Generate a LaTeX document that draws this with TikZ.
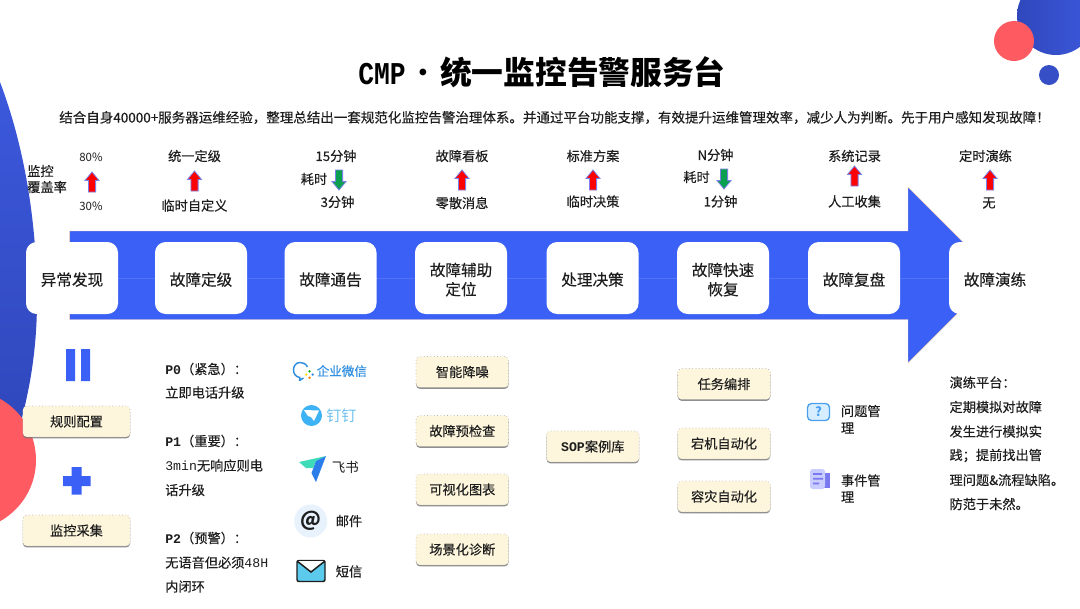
\documentclass[tikz,border=0pt]{standalone}
\usepackage{fontspec}
\usepackage{graphicx}
\setmainfont{Noto Sans CJK SC}
\newfontfamily\medf{Noto Sans CJK SC}[FakeBold=0.25]
\newfontfamily\monof{Liberation Mono}
\usetikzlibrary{shadows}
\definecolor{flowblue}{HTML}{3A60F5}
\definecolor{deepblue}{HTML}{3048BC}
\definecolor{midblue}{HTML}{3C58DC}
\definecolor{coral}{HTML}{FE5A62}
\definecolor{cream}{HTML}{FDF6DC}
\definecolor{ink}{HTML}{1E1E1E}
\definecolor{arrowedge}{HTML}{7A80E8}
\definecolor{downgreen}{HTML}{0AA050}
\definecolor{wxblue}{HTML}{2F8FE0}
\definecolor{dingblue}{HTML}{3DB2F5}
\definecolor{dingtext}{HTML}{6CC0F0}
\definecolor{mailbg}{HTML}{E8F2FD}
\definecolor{smsblue}{HTML}{5CCAEC}
\definecolor{qfill}{HTML}{D6EEFF}
\definecolor{qedge}{HTML}{4AA0EE}
\definecolor{docfill}{HTML}{C9CCFF}
\definecolor{docbar}{HTML}{7A78F0}
\definecolor{planeteal}{HTML}{3DDBB8}
\definecolor{planeblue}{HTML}{2B7DE9}
\tikzset{
  txt/.style={font=\medf\fontsize{9.9pt}{12pt}\selectfont,text=ink,inner sep=0pt},
  txtl/.style={txt,anchor=west},
  stagebox/.style={fill=white,rounded corners=8pt,minimum width=69pt,minimum height=54pt,inner sep=0pt,align=center,
     font=\medf\fontsize{11.7pt}{14.5pt}\selectfont,text=ink},
  creambox/.style={fill=cream,draw=black!30,dotted,line width=.5pt,rounded corners=3pt,minimum width=69.4pt,minimum height=23.2pt,inner sep=0pt,
     font=\medf\fontsize{9.9pt}{12pt}\selectfont,text=ink,
     drop shadow={shadow xshift=0pt,shadow yshift=-1.1pt,fill=black!55,opacity=.8}},
  widecream/.style={creambox,minimum width=80.5pt},
  flowbody/.style={fill=flowblue,draw=orange!30!white,line width=.3pt},
  markup/.style={fill=red,draw=arrowedge,line width=.6pt,line join=miter},
  markdown/.style={fill=downgreen,draw=arrowedge,line width=.6pt,line join=miter},
}
\newcommand{\upmark}[2]{\draw[markup,shift={(#1,#2)}] (0,-10)--(7,-1.5)--(3.6,-1.5)--(3.6,10)--(-3.6,10)--(-3.6,-1.5)--(-7,-1.5)--cycle;}
\newcommand{\downmark}[2]{\draw[markdown,shift={(#1,#2)}] (0,10)--(7,1.5)--(3.6,1.5)--(3.6,-10)--(-3.6,-10)--(-3.6,1.5)--(-7,1.5)--cycle;}
\newcommand{\lowtext}[1]{\raisebox{-1.2pt}[\height][\depth]{#1}}
\begin{document}
\begin{tikzpicture}[x=0.75pt,y=-0.75pt]
\useasboundingbox (0,0) rectangle (1080,608);
\clip (0,0) rectangle (1080,608);
\fill[white] (0,0) rectangle (1080,608);
% decorative shapes
\shade[top color=midblue,bottom color=deepblue] (0,82) .. controls (22,140) and (37,215) .. (37,300) .. controls (37,345) and (31,385) .. (20,425) -- (0,425) -- cycle;
\fill[coral] (-34,460) circle [radius=70];
\shade[left color=deepblue,right color=midblue] (1056,16) circle [radius=39];
\fill[coral] (1014,41) circle [radius=20];
\fill[midblue!90!black] (1049,75) circle [radius=10];
% main arrow
\draw[flowbody] (69.6,231) -- (908,231) -- (908,187) -- (996,275) -- (908,363) -- (908,319.5) -- (69.6,319.5) -- cycle;
\draw[flowblue!88!white,line width=.6pt] (69.6,278) -- (960,278);
% title
\node[inner sep=0pt,anchor=west,font=\bfseries\fontsize{23.8pt}{28pt}\selectfont,text=black] (title) at (358,72)
  {\scalebox{.83}[1]{\monof\bfseries CMP}\hspace{1pt}{\normalfont·}\hspace{1pt}统一监控告警服务台};
\node[txtl,font=\medf\fontsize{10.13pt}{12pt}\selectfont] (subtitle) at (59,117.5)
  {结合自身40000+服务器运维经验，整理总结出一套规范化监控告警治理体系。并通过平台功能支撑，有效提升运维管理效率，减少人为判断。先于用户感知发现故障！};
% top indicators
\node[txtl] (cov1) at (27,171) {监控};
\node[txtl] (cov2) at (27,187) {覆盖率};
\node[txt,font=\fontsize{8.6pt}{10pt}\selectfont] (p80) at (91,157) {80\%};
\node[txt,font=\fontsize{8.6pt}{10pt}\selectfont] (p30) at (91,206) {30\%};
\upmark{92}{182}
\node[txt] (a1) at (194.5,156) {统一定级};
\upmark{194.5}{181}
\node[txt] (a2) at (194.5,205.5) {临时自定义};
\node[txt] (b1) at (336,156) {15分钟};
\node[txt] (b2) at (314,179) {耗时};
\downmark{339}{180}
\node[txt] (b3) at (337.5,202) {3分钟};
\node[txt] (c1) at (462,156) {故障看板};
\upmark{462}{180}
\node[txt] (c2) at (462,203) {零散消息};
\node[txt] (d1) at (593,156) {标准方案};
\upmark{593}{180}
\node[txt] (d2) at (593,201.5) {临时决策};
\node[txt] (e1) at (715.5,155) {N分钟};
\node[txt] (e2) at (696.5,177) {耗时};
\downmark{724}{179}
\node[txt] (e3) at (720.5,201.5) {1分钟};
\node[txt] (f1) at (854.5,156) {系统记录};
\upmark{854.5}{176}
\node[txt] (f2) at (854.5,201.5) {人工收集};
\node[txt] (g1) at (985.5,156) {定时演练};
\upmark{990}{180}
\node[txt] (g2) at (989,203) {无};
% stages
\node[stagebox] (s1) at (72,278) {\lowtext{异常发现}};
\node[stagebox] (s2) at (201,278) {\lowtext{故障定级}};
\node[stagebox] (s3) at (330.5,278) {\lowtext{故障通告}};
\node[stagebox] (s4) at (461,278) {\lowtext{故障辅助}\\\lowtext{定位}};
\node[stagebox] (s5) at (592.5,278) {\lowtext{处理决策}};
\node[stagebox] (s6) at (723,278) {\lowtext{故障快速}\\\lowtext{恢复}};
\node[stagebox] (s7) at (854,278) {\lowtext{故障复盘}};
\node[stagebox] (s8) at (995,278) {\lowtext{故障演练}};
% column 1
\fill[flowblue] (66,349) rectangle (75,381) (81,349) rectangle (90,381);
\node[widecream] (k1) at (76.5,421.5) {规则配置};
\fill[flowblue] (71.5,467) rectangle (81.5,494.5) (63,476) rectangle (90.5,486);
\node[widecream] (k2) at (76.5,530.5) {监控采集};
% column 2
\node[txtl] (l1) at (165,369) {{\monof\bfseries P0}（紧急）：};
\node[txtl] (l2) at (165,392.5) {立即电话升级};
\node[txtl] (l3) at (165,441) {{\monof\bfseries P1}（重要）：};
\node[txtl] (l4) at (165,465.5) {{\monof 3min}无响应则电};
\node[txtl] (l5) at (165,490) {话升级};
\node[txtl] (l6) at (165,538) {{\monof\bfseries P2}（预警）：};
\node[txtl] (l7) at (165,562.5) {无语音但必须{\monof 48H}};
\node[txtl] (l8) at (165,586.5) {内闭环};
% column 3: channels
\draw[wxblue,line width=1.1pt,line join=round] (307.5,367) .. controls (306,363.5) and (302.5,362.5) .. (300,362.5) .. controls (295.5,362.5) and (293.5,366.5) .. (293.5,370) .. controls (293.5,374) and (296,377) .. (300,377.5) -- (299.5,380.5) -- (303.5,378);
\fill[green!65!black] (309.5,371.3) circle [radius=1.3];
\fill[orange] (309.5,377.7) circle [radius=1.3];
\fill[wxblue] (312.7,374.5) circle [radius=1.3];
\fill[yellow!80!orange] (306.3,374.5) circle [radius=1.3];
\node[txtl,text=wxblue,font=\medf\fontsize{9.4pt}{11pt}\selectfont] (wx) at (316.5,371) {企业微信};
\fill[dingblue] (311.5,415.5) circle [radius=10.5];
\fill[white] (304,410) -- (319,410.5) -- (314,421) -- (311,417) -- (308,416) -- cycle;
\node[txtl,text=dingtext,font=\fontsize{11.3pt}{13pt}\selectfont] (ding) at (326,416) {钉钉};
\fill[planeteal] (299,462) -- (326,456) -- (316,461) -- (313,468) -- (306,468) -- cycle;
\fill[planeblue] (326,456) -- (316,482) -- (311.5,473) -- (316,461) -- cycle;
\node[txt,font=\fontsize{10.1pt}{12pt}\selectfont] (fs) at (345.3,467.5) {飞书};
\fill[mailbg] (310.7,521) circle [radius=16.5];
\node[inner sep=0pt,text=ink,font=\bfseries\fontsize{15pt}{16pt}\selectfont] (at) at (310.7,520.5) {@};
\node[txt] (mail) at (349,521) {邮件};
\draw[ink,fill=smsblue,line width=1.1pt,rounded corners=1.5pt] (297,560.5) rectangle (325,581.5);
\fill[white] (297.6,561) -- (324.4,561) -- (311,572) -- cycle;
\draw[ink,line width=1.1pt] (297,561) -- (311,572) -- (325,561);
\node[txt] (sms) at (349,571.5) {短信};
% column 4
\node[creambox] (m1) at (462.3,372) {智能降噪};
\node[creambox] (m2) at (462.3,431) {故障预检查};
\node[creambox] (m3) at (462.3,489.5) {可视化图表};
\node[creambox] (m4) at (462.3,549.5) {场景化诊断};
% column 5
\node[creambox] (n1) at (592.8,446.5) {{\monof\bfseries SOP}案例库};
% column 6
\node[creambox] (o1) at (724,384) {任务编排};
\node[creambox] (o2) at (724,443.5) {宕机自动化};
\node[creambox] (o3) at (724,496.5) {容灾自动化};
% column 7
\draw[qedge,fill=qfill,line width=1pt,rounded corners=3pt] (807.5,403.5) rectangle (829.5,420.5);
\node[inner sep=0pt,text=qedge,font=\bfseries\fontsize{9.5pt}{10pt}\selectfont] (qmark) at (818.5,412) {?};
\node[txtl] (q1) at (840.7,411) {问题管};
\node[txtl] (q2) at (840.7,428) {理};
\fill[docbar] (824,473) rectangle (829.5,488);
\fill[docfill,rounded corners=2pt] (810,469) rectangle (825,489);
\fill[docbar] (813,473) rectangle (822,474.8) (813,477.8) rectangle (823,479.6) (813,482.6) rectangle (819,484.4);
\node[txtl] (r1) at (840.7,480.5) {事件管};
\node[txtl] (r2) at (840.7,497) {理};
% column 8
\node[txtl] (t1) at (949.3,382.5) {演练平台：};
\node[txtl] (t2) at (949.3,407) {定期模拟对故障};
\node[txtl] (t3) at (949.3,431.5) {发生进行模拟实};
\node[txtl] (t4) at (949.3,455.5) {践；提前找出管};
\node[txtl] (t5) at (949.3,480) {理问题\&流程缺陷。};
\node[txtl] (t6) at (949.3,504) {防范于未然。};
\end{tikzpicture}
\end{document}
